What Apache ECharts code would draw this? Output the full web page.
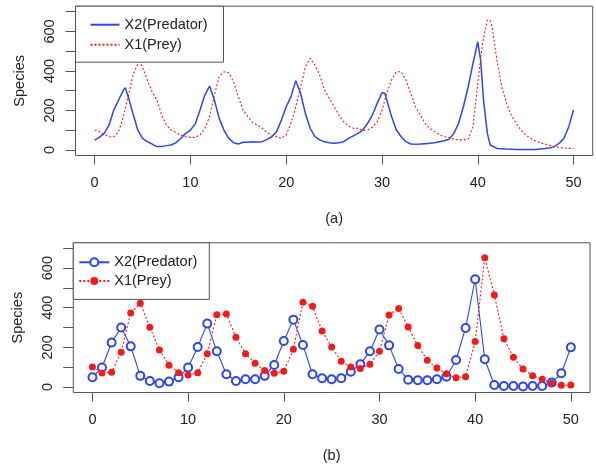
<!DOCTYPE html>
<html>
<head>
<meta charset="utf-8">
<script src="https://cdn.jsdelivr.net/npm/echarts@6/dist/echarts.min.js"></script>
<style>
  html, body { margin: 0; padding: 0; background: #fff; }
  #chart { width: 596px; height: 466px; }
</style>
</head>
<body>
<div id="chart"></div>
<script>
// (a) simulated trajectories as [time, count]
const predatorTrace = [[0,50],[0.5,64],[1,84],[1.5,126],[2,202],[2.5,253],[3,303],[3.2,315],[3.5,270],[4,185],[4.5,101],[5,59],[5.5,42],[6,30],[6.5,17],[7,17],[7.5,22],[8,25],[8.5,37],[9,59],[9.5,84],[10,101],[10.5,131],[11,202],[11.5,278],[12,324],[12.5,253],[13,160],[13.5,101],[14,59],[14.5,37],[15,30],[15.5,39],[16,39],[16.5,42],[17,40],[17.5,42],[18,54],[18.5,67],[19,93],[19.5,152],[20,219],[20.5,270],[21,351],[21.5,287],[22,185],[22.5,110],[23,67],[23.5,51],[24,42],[24.5,37],[25,34],[25.5,37],[26,42],[26.5,59],[27,71],[27.5,84],[28,101],[28.5,135],[29,177],[29.5,236],[30,290],[30.3,287],[30.5,253],[31,169],[31.5,101],[32,67],[32.5,42],[33,30],[33.5,29],[34,30],[34.5,32],[35,34],[35.5,37],[36,42],[36.5,47],[37,54],[37.5,84],[38,135],[38.5,219],[39,320],[39.5,438],[40,548],[40.3,455],[40.6,253],[41,84],[41.3,25],[41.5,17],[42,8],[43,5],[44,3],[45,2],[46,3],[47,7],[47.5,10],[48,17],[48.5,34],[49,59],[49.5,118],[50,202]];
const preyTrace = [[0,101],[0.5,93],[1,79],[1.5,67],[2,67],[2.5,93],[3,169],[3.5,270],[4,379],[4.6,447],[5,421],[5.5,354],[6,295],[6.5,253],[7,177],[7.5,126],[8,101],[8.5,88],[9,76],[9.5,67],[10,64],[10.5,64],[11,76],[11.5,110],[12,169],[12.5,278],[13,371],[13.5,396],[14,391],[14.5,346],[15,270],[15.5,202],[16,169],[16.5,138],[17,126],[17.5,110],[18,88],[18.5,76],[19,67],[19.5,59],[20,76],[20.5,135],[21,219],[21.5,320],[22,421],[22.5,464],[23,430],[23.5,379],[24,303],[24.5,261],[25,219],[25.5,177],[26,143],[26.5,121],[27,110],[27.5,110],[28,98],[28.5,101],[29,115],[29.5,143],[30,202],[30.5,287],[31,354],[31.5,396],[32,396],[32.5,354],[33,287],[33.5,219],[34,177],[34.5,135],[35,110],[35.5,93],[36,76],[36.5,67],[37,64],[37.5,54],[38,51],[38.5,51],[39,54],[39.5,118],[40,337],[40.5,540],[41,658],[41.3,654],[41.5,624],[42,455],[42.5,320],[43,236],[43.5,177],[44,135],[44.5,101],[45,76],[45.5,59],[46,47],[46.5,37],[47,30],[47.5,24],[48,17],[48.5,13],[49,10],[49.5,8],[50,8]];

// (b) the same system sampled at t = 0..50
const predatorSample = [49,98,224,300,205,56,30,19,27,49,98,202,320,180,64,30,39,39,56,111,232,340,212,64,44,39,44,77,115,180,290,210,91,37,34,34,39,52,136,298,544,140,10,5,5,2,5,5,22,69,200];
const preySample = [101,71,74,175,374,423,301,187,109,72,61,72,168,365,369,251,168,120,83,69,79,190,428,408,283,202,130,101,93,115,180,364,396,303,209,135,96,67,47,52,229,652,465,244,150,91,57,39,19,8,10];

const xTicks = [0, 10, 20, 30, 40, 50];
const yTicks = [0, 100, 200, 300, 400, 500, 600, 700];
const yLabels = [0, 200, 400, 600];

const font = '"Liberation Sans", Arial, sans-serif';
const fs = 14.5;
const blue = '#2f45e6';
const red = '#f01c1c';
const ink = '#222';
const frame = '#555';

let myChart = echarts.init(document.getElementById('chart'));

function xAxisFor(gridIndex, name) {
  return {
    type: 'value', gridIndex: gridIndex, min: -2, max: 52,
    axisLine: { show: false, onZero: false },
    splitLine: { show: false },
    axisTick: { show: true, length: 9, customValues: xTicks, lineStyle: { color: frame } },
    axisLabel: { customValues: xTicks, margin: 20, fontSize: fs, color: ink, fontFamily: font },
    name: name, nameLocation: 'middle', nameGap: 56,
    nameTextStyle: { fontSize: fs, color: ink, fontFamily: font }
  };
}

function yAxisFor(gridIndex) {
  return {
    type: 'value', gridIndex: gridIndex, min: -28, max: 728,
    axisLine: { show: false, onZero: false },
    splitLine: { show: false },
    axisTick: { show: true, length: 10, customValues: yTicks, lineStyle: { color: frame } },
    axisLabel: { customValues: yLabels, rotate: 90, margin: 18, fontSize: fs, color: ink, fontFamily: font },
    name: 'Species', nameLocation: 'middle', nameRotate: 90, nameGap: 48,
    nameTextStyle: { fontSize: fs, color: ink, fontFamily: font }
  };
}

let option = {
  animation: false,
  backgroundColor: '#fff',
  grid: [
    { left: 75.5, right: 3.3, top: 6.2, height: 149.3, show: true, borderColor: frame, borderWidth: 1 },
    { left: 73.3, right: 6, top: 242.8, height: 149.7, show: true, borderColor: frame, borderWidth: 1 }
  ],
  xAxis: [xAxisFor(0, '(a)'), xAxisFor(1, '(b)')],
  yAxis: [yAxisFor(0), yAxisFor(1)],
  legend: [
    {
      // lines only in panel (a)
      data: ['X2(Predator)', 'X1(Prey)'], orient: 'vertical', left: 75.5, top: 6.2,
      padding: [11, 16, 10, 14], itemGap: 5, itemWidth: 29, itemHeight: 14,
      itemStyle: { opacity: 0 },
      borderColor: frame, borderWidth: 1, backgroundColor: '#fff',
      textStyle: { fontSize: fs, lineHeight: 14, color: ink, fontFamily: font },
      selectedMode: false
    },
    {
      data: ['X2(Predator) (b)', 'X1(Prey) (b)'], orient: 'vertical', left: 73.3, top: 242.8,
      padding: [12, 12, 11, 5], itemGap: 3.6, itemWidth: 30, itemHeight: 10,
      borderColor: frame, borderWidth: 1, backgroundColor: '#fff',
      textStyle: { fontSize: fs, lineHeight: 14, color: ink, fontFamily: font },
      formatter: (n) => n.replace(' (b)', ''),
      selectedMode: false
    }
  ],
  series: [
    {
      name: 'X2(Predator)', type: 'line', xAxisIndex: 0, yAxisIndex: 0,
      symbol: 'none', data: predatorTrace,
      lineStyle: { color: blue, width: 1.5 }, itemStyle: { color: blue }
    },
    {
      name: 'X1(Prey)', type: 'line', xAxisIndex: 0, yAxisIndex: 0,
      symbol: 'none', data: preyTrace,
      lineStyle: { color: red, width: 1.1, type: [2, 2] }, itemStyle: { color: red }
    },
    {
      name: 'X2(Predator) (b)', type: 'line', xAxisIndex: 1, yAxisIndex: 1,
      symbol: 'emptyCircle', symbolSize: 8,
      data: predatorSample.map((v, i) => [i, v]),
      lineStyle: { color: blue, width: 1.1 }, itemStyle: { color: blue, borderWidth: 1.1 }
    },
    {
      name: 'X1(Prey) (b)', type: 'line', xAxisIndex: 1, yAxisIndex: 1,
      symbol: 'circle', symbolSize: 7,
      data: preySample.map((v, i) => [i, v]),
      lineStyle: { color: red, width: 1.1, type: [2, 2] }, itemStyle: { color: red }
    }
  ]
};

myChart.setOption(option);
</script>
</body>
</html>
